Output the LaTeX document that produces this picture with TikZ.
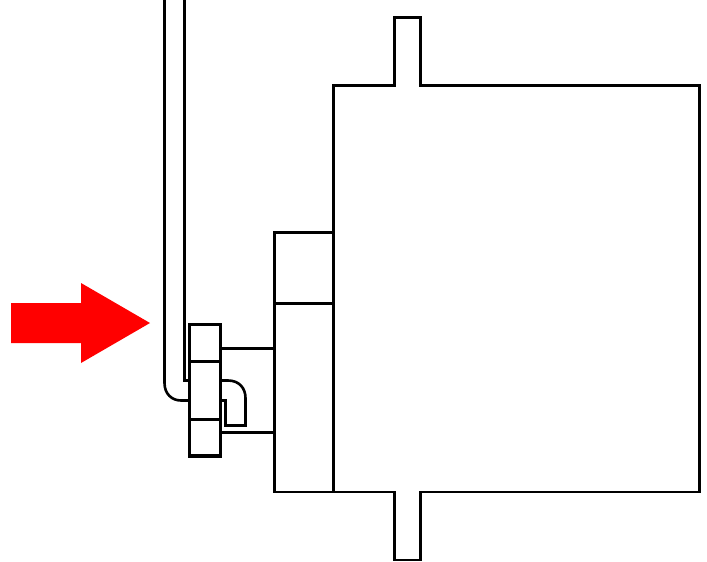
\documentclass[tikz,border=0pt]{standalone}
\tikzset{outline/.style={draw=black,line width=2.6pt,line join=miter,fill=none}}
\begin{document}
\begin{tikzpicture}[x=1pt,y=-1pt]
\useasboundingbox (0,0) rectangle (707,562);
% red arrow
\fill[red] (11,303) -- (81,303) -- (81,283) -- (150,323) -- (81,363) -- (81,343) -- (11,343) -- cycle;
% body with tabs
\draw[outline] (333.5,85.5) -- (394.5,85.5) -- (394.5,17.5) -- (420.5,17.5) -- (420.5,85.5) -- (699.5,85.5) -- (699.5,492) -- (420.5,492) -- (420.5,560) -- (394.5,560) -- (394.5,492) -- (333.5,492) -- cycle;
% left block
\draw[outline] (333.5,232.5) -- (274.5,232.5) -- (274.5,492) -- (333.5,492);
\draw[outline] (274.5,303.5) -- (333.5,303.5);
% connectors to horn
\draw[outline] (220.5,348.5) -- (274.5,348.5);
\draw[outline] (220.5,432.5) -- (274.5,432.5);
% horn
\draw[outline] (189.5,324.5) rectangle (220.5,456.5);
\draw[outline] (189.5,361.5) -- (220.5,361.5);
\draw[outline] (189.5,419.5) -- (220.5,419.5);
\draw[outline] (189.5,455.5) -- (220.5,455.5);
% wire tube
\draw[outline] (164.5,0) -- (164.5,383) .. controls (164.5,394) and (172,400.5) .. (181,400.5) -- (189.5,400.5);
\draw[outline] (184.5,0) -- (184.5,380.5) -- (189.5,380.5);
% hook
\draw[outline] (220.5,380.5) -- (228,380.5) .. controls (239,380.5) and (245.5,388) .. (245.5,398) -- (245.5,425.5) -- (225.5,425.5) -- (225.5,400.5) -- (220.5,400.5);
\end{tikzpicture}
\end{document}
